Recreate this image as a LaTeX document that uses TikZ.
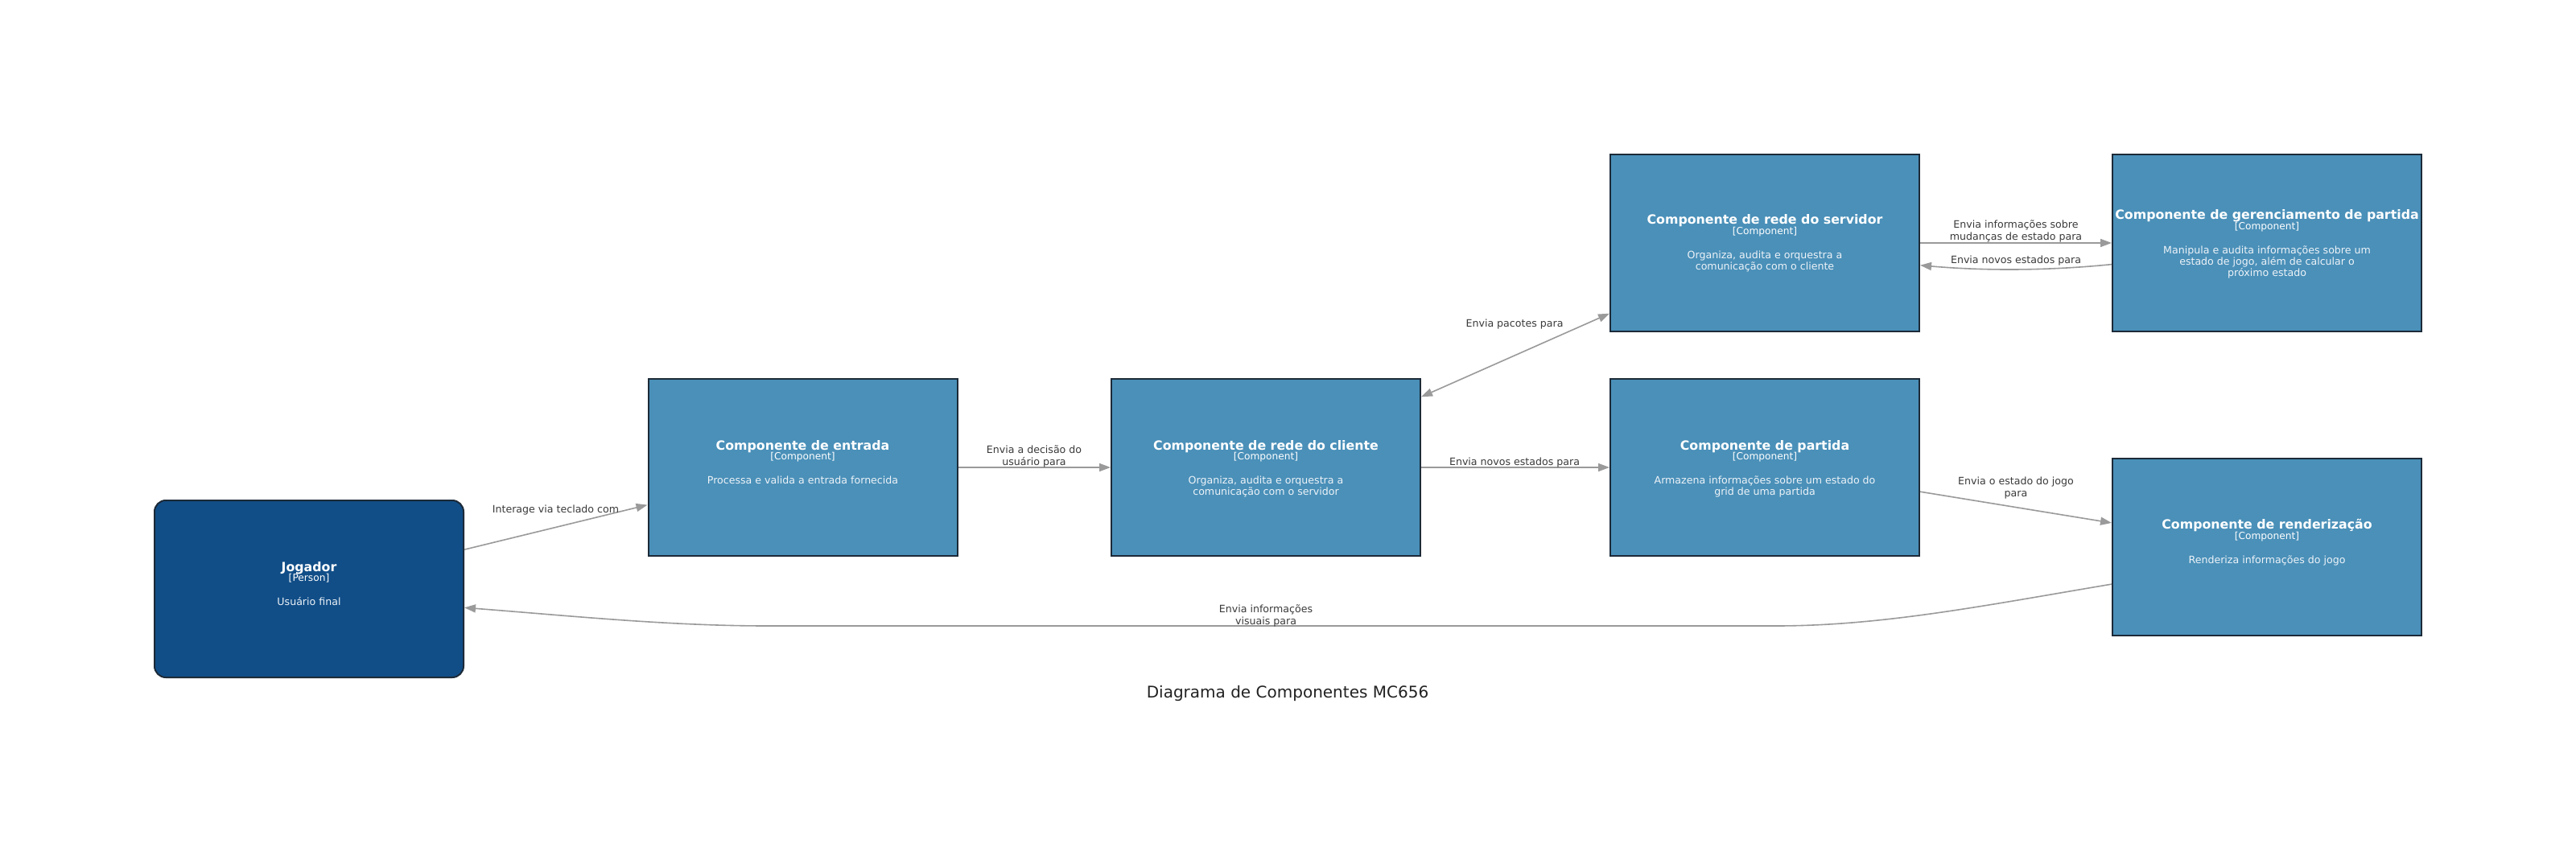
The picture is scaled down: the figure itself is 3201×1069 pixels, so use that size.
\documentclass[tikz,border=0pt]{standalone}
\usepackage{fontspec}
\setmainfont{DejaVu Sans}
\usetikzlibrary{arrows.meta,calc}
\definecolor{compfill}{HTML}{4A90B9}
\definecolor{personfill}{HTML}{114E88}
\definecolor{boxline}{HTML}{1C2A38}
\definecolor{edgecol}{HTML}{9A9A9A}
\definecolor{labelcol}{HTML}{3A3A3A}
\definecolor{desccol}{HTML}{EEF3F8}
\definecolor{titlecol}{HTML}{222222}
% #1 name, #2 title, #3 type, #4 description, #5 vertical shift, #6 description lines
\newcommand\boxtexts[6]{%
  \node[ttl] (#1-t) at ($(#1.center)+(0,{-22+(#5)})$) {#2};
  \node[typ] (#1-k) at ($(#1.center)+(0,{-9.5+(#5)})$) {#3};
  \node[dsc] (#1-d) at ($(#1.center)+(0,{20.5+(#5)+13.8*((#6)-1)})$) {#4};
}
\begin{document}
\begin{tikzpicture}[x=0.5pt,y=-0.5pt,
  comp/.style={draw=boxline,line width=1pt,fill=compfill,minimum width=192pt,minimum height=110pt,inner sep=0pt},
  person/.style={comp,fill=personfill,rounded corners=7pt},
  ttl/.style={anchor=base,text=white,inner sep=0pt,font=\bfseries\fontsize{7.9}{9}\selectfont},
  typ/.style={anchor=base,text=white,inner sep=0pt,font=\fontsize{6.1}{7}\selectfont},
  dsc/.style={anchor=base,text=desccol,inner sep=0pt,align=center,font=\fontsize{6.3}{6.9}\selectfont},
  lbl/.style={anchor=base,text=labelcol,inner sep=0pt,align=center,font=\fontsize{6.3}{7.5}\selectfont},
  edge/.style={draw=edgecol,line width=0.8pt,-{Triangle[length=7pt,width=5pt]}},
  edgeboth/.style={draw=edgecol,line width=0.8pt,{Triangle[length=7pt,width=5pt]}-{Triangle[length=7pt,width=5pt]}}
]
\fill[white] (0,0) rectangle (3201,1069);
\useasboundingbox (0,0) rectangle (3201,1069);

\node[person] (jog) at (384,732) {};
\node[comp] (ent) at (997.5,581) {};
\node[comp] (cli) at (1573,581) {};
\node[comp] (srv) at (2193,302) {};
\node[comp] (ger) at (2817,302) {};
\node[comp] (par) at (2193,581) {};
\node[comp] (ren) at (2817,679.5) {};

\boxtexts{jog}{Jogador}{[Person]}{Usuário final}{0}{1}
\boxtexts{ent}{Componente de entrada}{[Component]}{Processa e valida a entrada fornecida}{0}{1}
\boxtexts{cli}{Componente de rede do cliente}{[Component]}{Organiza, audita e orquestra a\\comunicação com o servidor}{0}{2}
\boxtexts{srv}{Componente de rede do servidor}{[Component]}{Organiza, audita e orquestra a\\comunicação com o cliente}{-1}{2}
\boxtexts{ger}{Componente de gerenciamento de partida}{[Component]}{Manipula e audita informações sobre um\\estado de jogo, além de calcular o\\próximo estado}{-7}{3}
\boxtexts{par}{Componente de partida}{[Component]}{Armazena informações sobre um estado do\\grid de uma partida}{0}{2}
\boxtexts{ren}{Componente de renderização}{[Component]}{Renderiza informações do jogo}{0}{1}

% connectors
\draw[edge] ($(jog.north east)!0.28!(jog.south east)$) -- ($(ent.north west)!0.71!(ent.south west)$);
\draw[edge] (ent.east) -- (cli.west);
\draw[edge] (cli.east) -- (par.west);
\draw[edgeboth] ($(cli.north east)!0.105!(cli.south east)$) -- ($(srv.north west)!0.895!(srv.south west)$);
\draw[edge] (srv.east) -- (ger.west);
\coordinate (g1) at ($(ger.north west)!0.62!(ger.south west)$);
\coordinate (s1) at ($(srv.north east)!0.625!(srv.south east)$);
\draw[edge] (g1) .. controls ($(g1)+(-80,8)$) and ($(s1)+(80,7)$) .. (s1);
\draw[edge] ($(par.north east)!0.636!(par.south east)$) -- ($(ren.north west)!0.367!(ren.south west)$);
\coordinate (r1) at ($(ren.north west)!0.71!(ren.south west)$);
\coordinate (j1) at ($(jog.north east)!0.605!(jog.south east)$);
\coordinate (h1) at (2207,778);
\coordinate (h2) at (953,778);
\draw[edge] (r1) .. controls ($(r1)+(-155,26)$) and ($(h1)+(133,0)$) .. (h1) -- (h2) .. controls ($(h2)+(-123,0)$) and ($(j1)+(130,10)$) .. (j1);

% edge labels (base = baseline of the last line)
\node[lbl] (l1) at (690.5,637) {Interage via teclado com};
\node[lbl] (l2) at (1285,578) {Envia a decisão do\\usuário para};
\node[lbl] (l3) at (1882,578) {Envia novos estados para};
\node[lbl] (l4) at (1882,407) {Envia pacotes para};
\node[lbl] (l5) at (2505,299) {Envia informações sobre\\mudanças de estado para};
\node[lbl] (l6) at (2505,328) {Envia novos estados para};
\node[lbl] (l7) at (2505,617) {Envia o estado do jogo\\para};
\node[lbl] (l8) at (1573,776) {Envia informações\\visuais para};

\node[anchor=base,text=titlecol,inner sep=0pt,font=\fontsize{10}{12}\selectfont] (title) at (1600,867) {Diagrama de Componentes MC656};
\end{tikzpicture}
\end{document}
